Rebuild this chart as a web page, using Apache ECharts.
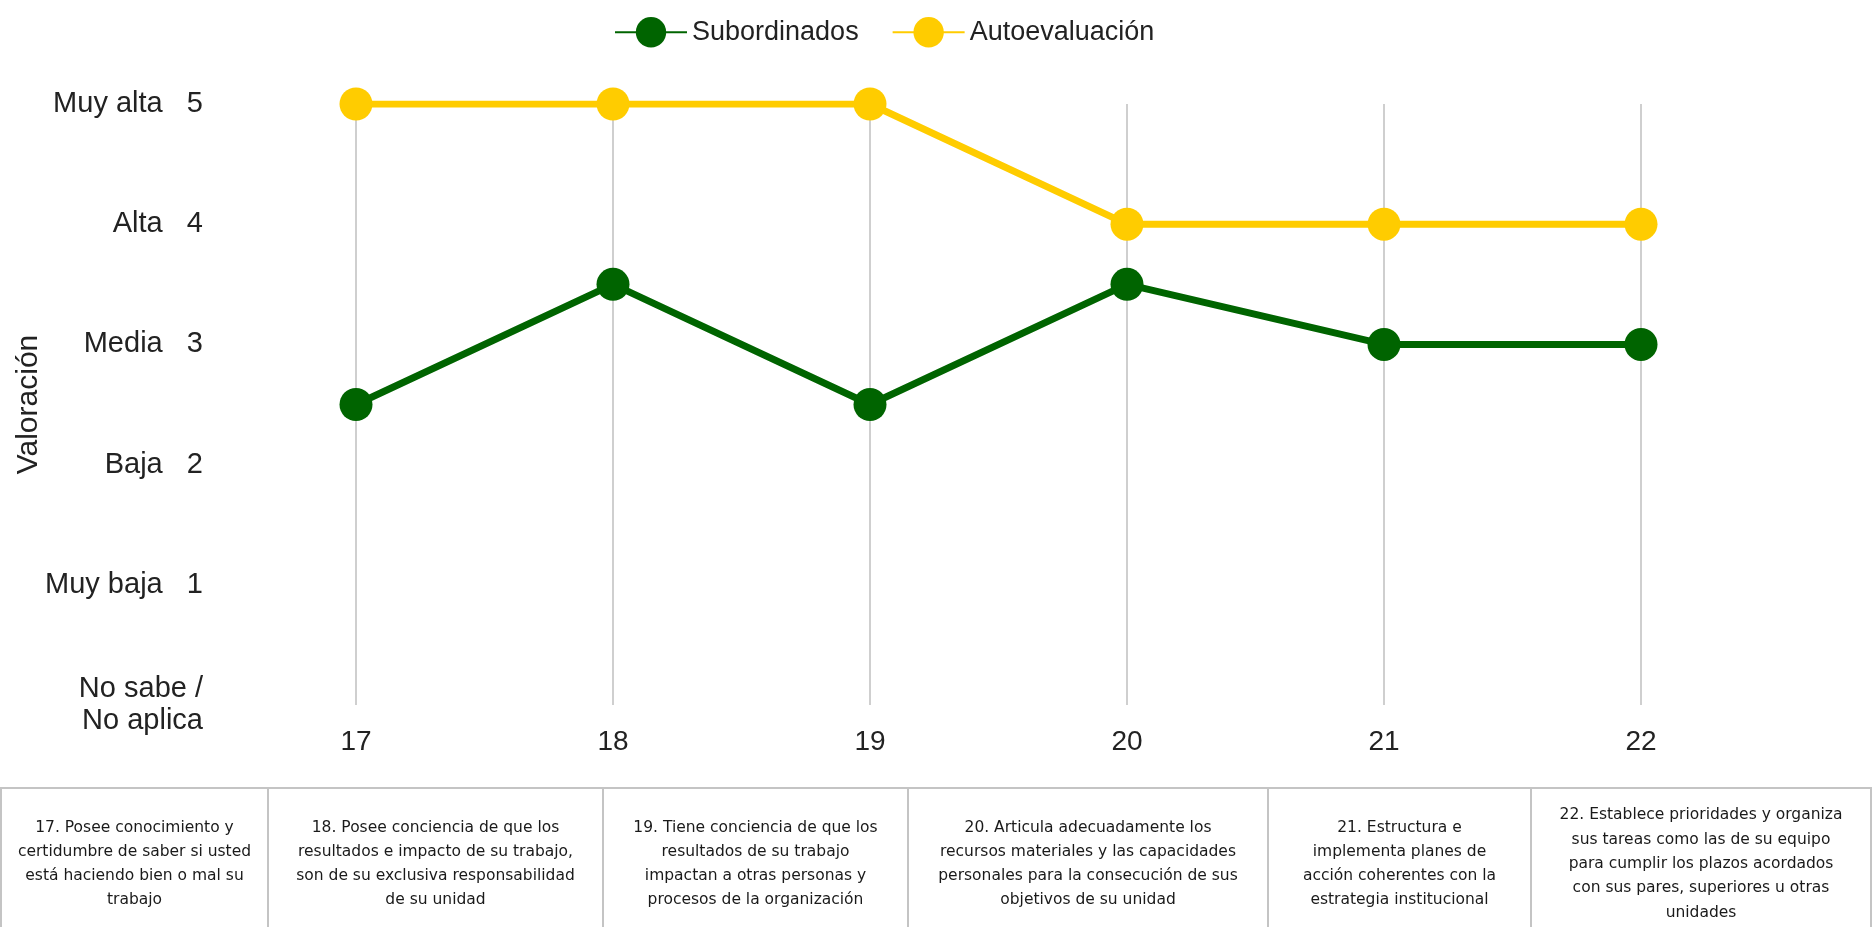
<!DOCTYPE html>
<html>
<head>
<meta charset="utf-8">
<script src="https://cdn.jsdelivr.net/npm/echarts@6/dist/echarts.min.js"></script>
<style>
  html, body { margin: 0; padding: 0; background: #fff; }
  #chart { width: 1874px; height: 927px; }
</style>
</head>
<body>
<div id="chart"></div>
<script>
// Items (x axis) and the two rating series
const categories = ['17', '18', '19', '20', '21', '22'];
const subordinados = [2.5, 3.5, 2.5, 3.5, 3, 3];
const autoevaluacion = [5, 5, 5, 4, 4, 4];

// Rating scale labels for the y axis (value -> text)
const scaleLabels = ['No sabe /\nNo aplica', 'Muy baja   1', 'Baja   2', 'Media   3', 'Alta   4', 'Muy alta   5'];

// Item descriptions shown in the table below the chart
const descriptions = [
  '17. Posee conocimiento y\ncertidumbre de saber si usted\nestá haciendo bien o mal su\ntrabajo',
  '18. Posee conciencia de que los\nresultados e impacto de su trabajo,\nson de su exclusiva responsabilidad\nde su unidad',
  '19. Tiene conciencia de que los\nresultados de su trabajo\nimpactan a otras personas y\nprocesos de la organización',
  '20. Articula adecuadamente los\nrecursos materiales y las capacidades\npersonales para la consecución de sus\nobjetivos de su unidad',
  '21. Estructura e\nimplementa planes de\nacción coherentes con la\nestrategia institucional',
  '22. Establece prioridades y organiza\nsus tareas como las de su equipo\npara cumplir los plazos acordados\ncon sus pares, superiores u otras\nunidades'
];

// Table layout
const colEdges = [1, 268, 603, 908, 1268, 1531, 1871];
const tableTop = 788;
const tableBottom = 945;
const textMid = 864;

const AXIS_FONT = "'Liberation Sans', Arial, sans-serif";
const GREEN = '#006400';
const YELLOW = '#FFCC00';

const graphics = [];
for (let i = 0; i < descriptions.length; i++) {
  const x0 = colEdges[i], x1 = colEdges[i + 1];
  graphics.push({
    type: 'rect',
    shape: { x: x0, y: tableTop, width: x1 - x0, height: tableBottom - tableTop },
    style: { fill: '#fff', stroke: '#c4c4c4', lineWidth: 2 },
    silent: true
  });
  graphics.push({
    type: 'text',
    x: (x0 + x1) / 2,
    y: textMid,
    style: {
      text: descriptions[i],
      font: "15.5px 'DejaVu Sans', sans-serif",
      fill: '#1a1a1a',
      align: 'center',
      verticalAlign: 'middle',
      lineHeight: 24.3
    },
    silent: true
  });
}

const chart = echarts.init(document.getElementById('chart'));
chart.setOption({
  animation: false,
  backgroundColor: '#fff',
  legend: {
    top: 12,
    left: 609,
    itemGap: 33,
    itemWidth: 72,
    itemHeight: 38,
    textStyle: { fontFamily: AXIS_FONT, fontSize: 27, color: '#222' },
    data: ['Subordinados', 'Autoevaluación']
  },
  grid: {
    left: 356, right: 233, top: 104, bottom: 222,
    containLabel: false,
    outerBoundsMode: 'none'
  },
  xAxis: {
    type: 'category',
    data: categories,
    boundaryGap: false,
    axisLine: { show: false },
    axisTick: { show: false },
    axisLabel: { fontFamily: AXIS_FONT, fontSize: 28, color: '#222', margin: 23 },
    splitLine: { show: true, lineStyle: { color: '#cfcfcf', width: 2 } }
  },
  yAxis: {
    type: 'value',
    min: 0,
    max: 5,
    interval: 1,
    name: 'Valoración',
    nameLocation: 'middle',
    nameGap: 312,
    nameRotate: 90,
    nameMoveOverlap: false,
    nameTextStyle: { fontFamily: AXIS_FONT, fontSize: 30, color: '#222' },
    axisLine: { show: false },
    axisTick: { show: false },
    splitLine: { show: false },
    axisLabel: {
      fontFamily: AXIS_FONT,
      fontSize: 29,
      color: '#222',
      margin: 153,
      lineHeight: 32,
      formatter: v => scaleLabels[v]
    }
  },
  series: [
    {
      name: 'Subordinados',
      type: 'line',
      data: subordinados,
      color: GREEN,
      symbol: 'circle',
      symbolSize: 33,
      lineStyle: { width: 7, color: GREEN },
      itemStyle: { color: GREEN }
    },
    {
      name: 'Autoevaluación',
      type: 'line',
      data: autoevaluacion,
      color: YELLOW,
      symbol: 'circle',
      symbolSize: 33,
      lineStyle: { width: 7, color: YELLOW },
      itemStyle: { color: YELLOW }
    }
  ],
  graphic: graphics
});
</script>
</body>
</html>
